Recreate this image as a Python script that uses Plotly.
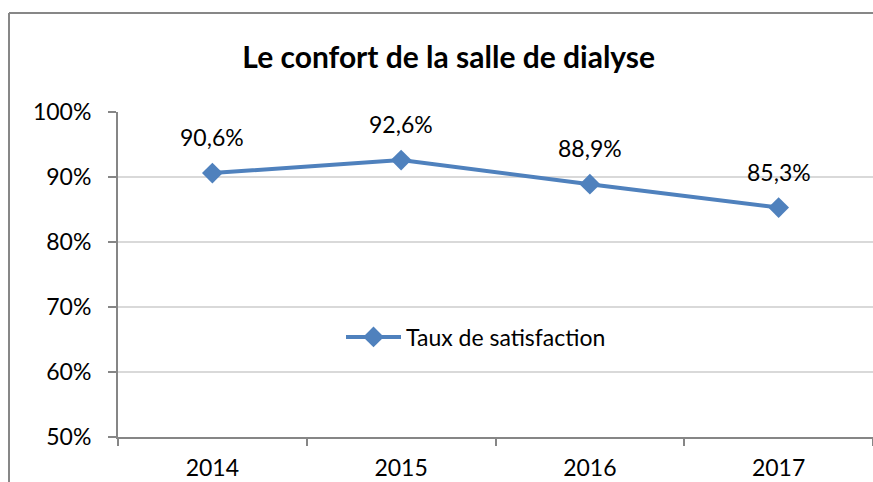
import plotly.graph_objects as go

years = ["2014", "2015", "2016", "2017"]
satisfaction = [0.906, 0.926, 0.889, 0.853]
series_name = "Taux de satisfaction"
title_text = "Le confort de la salle de dialyse"

labels = [f"{v*100:.1f}%".replace(".", ",") for v in satisfaction]

FONT = "Lato"
BLUE = "#4F81BD"

fig = go.Figure()
fig.add_trace(go.Scatter(
    x=years, y=satisfaction, mode="lines+markers", name=series_name,
    line=dict(color=BLUE, width=4),
    marker=dict(symbol="diamond", size=16, color=BLUE),
    showlegend=True,
))

for i, (y, t) in enumerate(zip(satisfaction, labels)):
    fig.add_annotation(x=i, y=y, xref="x", yref="y", text=t, showarrow=False,
                       yshift=36, font=dict(family=FONT, size=23, color="#000000"))

L, T, B = 118, 112, 45
W, H = 873, 482
pw = W - L
ph = H - T - B

# outer chart frame: only left and top edges are inside the picture
fig.add_shape(type="line", xref="paper", yref="paper",
              x0=(9 - L) / pw, x1=(9 - L) / pw, y0=-0.5, y1=(H - B - 13) / ph,
              line=dict(color="#878787", width=2), layer="below")
fig.add_shape(type="line", xref="paper", yref="paper",
              x0=(9 - L) / pw, x1=1.2, y0=(H - B - 13) / ph, y1=(H - B - 13) / ph,
              line=dict(color="#878787", width=2), layer="below")

fig.update_layout(
    width=W, height=H,
    margin=dict(l=L, r=0, t=T, b=B),
    paper_bgcolor="white", plot_bgcolor="white",
    font=dict(family=FONT, size=23, color="#000000"),
    title=dict(text="<b>" + title_text + "</b>", x=0.514, xref="container",
               xanchor="center", y=1 - 57 / H, yanchor="middle",
               font=dict(family=FONT, size=30, color="#000000")),
    legend=dict(x=(476 - L) / pw, y=(H - B - 337) / ph, xanchor="center",
                yanchor="middle", bgcolor="rgba(0,0,0,0)",
                font=dict(family=FONT, size=23), itemwidth=55),
    xaxis=dict(type="category", range=[-0.5, 3.5], showgrid=False,
               showline=True, linecolor="#868686", linewidth=2,
               ticks="outside", tickson="boundaries", ticklen=7,
               tickcolor="#868686", tickwidth=2, ticklabelstandoff=9),
    yaxis=dict(range=[0.5, 1.0], dtick=0.1, tickformat=".0%",
               showgrid=True, gridcolor="#D9D9D9", gridwidth=2,
               showline=True, linecolor="#868686", linewidth=2,
               ticks="outside", ticklen=8, tickcolor="#868686", tickwidth=2,
               ticklabelstandoff=12, zeroline=False),
)

fig.write_html(
    "out.html", config={"displayModeBar": False},
    post_script=("document.documentElement.style.overflow='hidden';"
                 "document.body.style.margin='0';"
                 "document.body.style.overflow='hidden';"
                 "var d=document.getElementById('{plot_id}');"
                 "d.style.position='fixed';d.style.left='0px';d.style.top='0px';"))
